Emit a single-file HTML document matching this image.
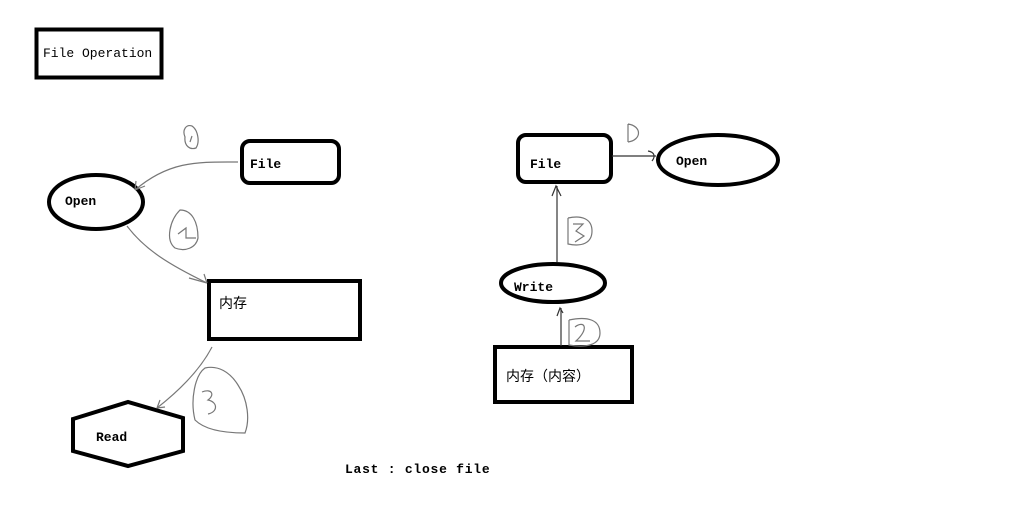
<!DOCTYPE html>
<html><head><meta charset="utf-8"><style>
html,body{margin:0;padding:0;background:#fff;width:1024px;height:523px;overflow:hidden}
svg{display:block}
.m{font-family:"Liberation Mono","Noto Sans CJK SC",monospace;font-size:12px;fill:#000}
.b{font-weight:bold;font-size:13px}
.c{font-family:"Liberation Sans","Noto Sans CJK SC",sans-serif;font-size:13px;fill:#000}
</style></head><body>
<svg width="1024" height="523" viewBox="0 0 1024 523" xmlns="http://www.w3.org/2000/svg">
<rect x="0" y="0" width="1024" height="523" fill="#fff"/>
<rect x="36.5" y="29.5" width="125" height="48" fill="none" stroke="#000" stroke-width="4"/>
<text x="43" y="57" class="m" style="font-size:13px">File Operation</text>

<rect x="242" y="141" width="97" height="42" rx="8" fill="none" stroke="#000" stroke-width="4"/>
<text x="250" y="168" class="m b">File</text>
<ellipse cx="96" cy="202" rx="47" ry="27" fill="none" stroke="#000" stroke-width="4"/>
<text x="65" y="205" class="m b">Open</text>
<rect x="209" y="281" width="151" height="58" fill="none" stroke="#000" stroke-width="4"/>
<text x="219" y="308" class="c" style="font-size:14px">内存</text>
<polygon points="73,419 128,402 183,418 183,451 128,466 73,451" fill="none" stroke="#000" stroke-width="4"/>
<text x="96" y="441" class="m b">Read</text>

<g fill="none" stroke="#777" stroke-width="1.2">
<path d="M238,162 C200,162 170,160 135,190"/>
<path d="M135,190 l10,-4 M135,190 l1,-9"/>
<path d="M127,226 C145,250 170,265 207,283"/>
<path d="M207,283 l-18,-5 M207,283 l-3,-9"/>
<path d="M212,347 C200,370 180,390 157,408"/>
<path d="M157,408 l3,-8 M157,408 l8,-1"/>
<path d="M185,137 C182,130 186,124 192,126 C198,130 200,142 196,148 C190,150 184,146 185,137 Z M190,142 L192,136"/>
<path d="M180,210 C170,220 165,240 175,248 C185,252 196,248 198,238 C198,222 192,210 180,210 Z M178,234 L186,228 L186,238 L196,238"/>
<path d="M205,368 C195,375 190,400 195,420 C205,430 225,433 245,433 C250,420 248,400 238,385 C230,372 218,365 205,368 Z M202,392 C212,388 215,395 208,400 C218,402 218,412 208,414"/>
</g>

<rect x="518" y="135" width="93" height="47" rx="8" fill="none" stroke="#000" stroke-width="4"/>
<text x="530" y="168" class="m b">File</text>
<ellipse cx="718" cy="160" rx="60" ry="25" fill="none" stroke="#000" stroke-width="4"/>
<text x="676" y="165" class="m b">Open</text>
<ellipse cx="553" cy="283" rx="52" ry="19" fill="none" stroke="#000" stroke-width="4"/>
<text x="514" y="291" class="m b">Write</text>
<rect x="495" y="347" width="137" height="55" fill="none" stroke="#000" stroke-width="4"/>
<text x="506" y="381" class="c" style="font-size:14px">内存（内容）</text>

<g fill="none" stroke="#333" stroke-width="1.2">
<path d="M612,156 L656,156"/>
<path d="M648,151 C654,152 656,156 652,161"/>
<path d="M557,262 L557,186"/>
<path d="M552,196 L556,186 L561,196"/>
<path d="M561,346 L561,308"/>
<path d="M557,316 L560,308 L563,313"/>
<path d="M628,124 L628,142 M628,124 C642,126 642,140 628,142" stroke="#777"/>
<path d="M568,218 L568,244 C582,247 592,243 592,231 C592,219 582,215 568,218 M573,224 L583,224 L576,231 L584,236 L575,242" stroke="#777"/>
<path d="M569,320 L569,345 C586,348 600,345 600,333 C600,320 588,316 569,320 M575,327 C584,320 590,328 576,341 L590,341" stroke="#777"/>
</g>

<text x="345" y="473" class="m b" style="font-size:13px;letter-spacing:0.75px">Last : close file</text>
</svg>
</body></html>
